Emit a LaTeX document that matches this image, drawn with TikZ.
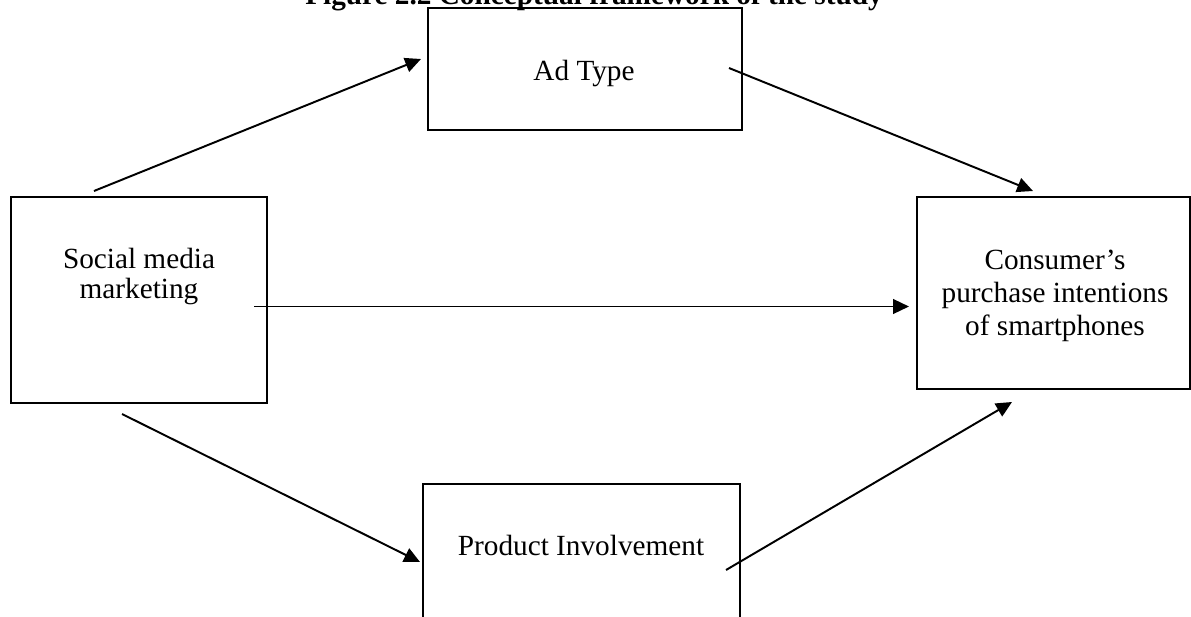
\documentclass[tikz,border=0pt]{standalone}
\usepackage{fontspec}
\setmainfont{Liberation Serif}
\usetikzlibrary{arrows.meta}
\begin{document}
\begin{tikzpicture}[x=0.41pt,y=-0.41pt,
  box/.style={draw,line width=0.8pt,inner sep=0pt},
  txt/.style={font=\fontsize{12}{12.3}\selectfont,align=center,inner sep=0pt},
  link/.style={line width=0.8pt,-{Triangle[length=6.5pt,width=6pt]}}]
\useasboundingbox (0,0) rectangle (1191,616);
\clip (0,0) rectangle (1191,616);

% boxes
\node[box,minimum width={314*0.41pt},minimum height={122*0.41pt}] (ad) at (585,69) {};
\node[box,minimum width={256*0.41pt},minimum height={206*0.41pt}] (smm) at (139,300) {};
\node[box,minimum width={273*0.41pt},minimum height={192*0.41pt}] (cpi) at (1053.5,293) {};
\node[box,minimum width={317*0.41pt},minimum height={166*0.41pt}] (pin) at (581.5,567) {};

% title, running off the top edge
\node[font=\fontsize{12}{14}\selectfont\bfseries,anchor=base,inner sep=0pt] (title) at (594,4.5)
  {Figure 2.2 Conceptual framework of the study};

% labels
\node[txt,anchor=base] (adT) at (584,80) {Ad Type};
\node[txt,anchor=north] (smmT) at (139,248) {Social media\\marketing};
\node[txt,anchor=north,font=\fontsize{12}{13.5}\selectfont] (cpiT) at (1055,250)
  {Consumer’s\\purchase intentions\\of smartphones};
\node[txt,anchor=base] (pinT) at (581,555) {Product Involvement};

% connector ends
\coordinate (a1s) at (94,191);   \coordinate (a1e) at (421,59);
\coordinate (a2s) at (729,68);   \coordinate (a2e) at (1033,191);
\coordinate (a3s) at (254,306.5);\coordinate (a3e) at (909,306.5);
\coordinate (a4s) at (122,414);  \coordinate (a4e) at (420,562);
\coordinate (a5s) at (726,570);  \coordinate (a5e) at (1012,402);

% connectors
\draw[link] (a1s) -- (a1e);
\draw[link] (a2s) -- (a2e);
\draw[link] (a3s) -- (a3e);
\draw[link] (a4s) -- (a4e);
\draw[link] (a5s) -- (a5e);
\end{tikzpicture}
\end{document}
